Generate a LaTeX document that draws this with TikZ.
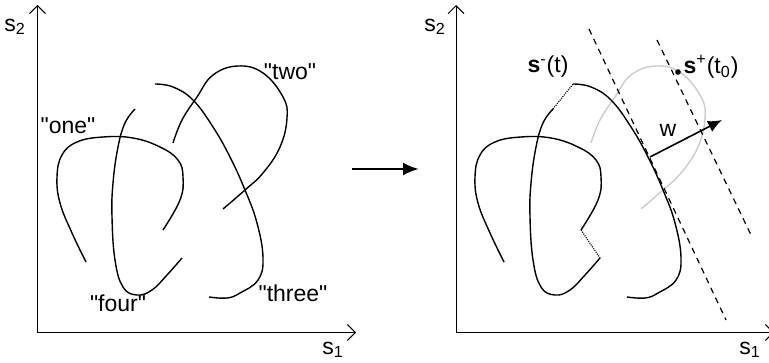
\documentclass[tikz,border=0pt]{standalone}
\usepackage{fontspec}
\setmainfont{Liberation Sans}[Ligatures=TeXOff]
\usetikzlibrary{arrows.meta}
\begin{document}
\begin{tikzpicture}[x=0.5pt,y=-0.5pt,
  lbl/.style={font=\fontsize{11.5}{13}\selectfont, inner sep=0pt},
  axis/.style={line width=0.45pt, -{Straight Barb[length=4pt,width=8pt,line width=0.45pt]}},
  crv/.style={line width=0.7pt},
  gcrv/.style={line width=0.7pt, black!20},
  dotl/.style={line width=0.6pt, dash pattern=on 0.5pt off 0.6pt},
  dsh/.style={line width=0.6pt, dash pattern=on 3pt off 2.5pt},
  bigarrow/.style={line width=1.3pt, -{Latex[length=8pt,width=6.5pt]}}]
\useasboundingbox (0,0) rectangle (769,363);
% ---------- left panel ----------
\coordinate (oL) at (37.5,332.5);
\coordinate (yL) at (37.5,5);
\coordinate (xL) at (356,332.5);
\draw[axis] (oL) -- (yL);
\draw[axis] (oL) -- (xL);
\node[lbl] (s2L) at (15,27) {s\textsubscript{2}};
\node[lbl] (s1L) at (333,350) {s\textsubscript{1}};
\draw[crv] plot[smooth,tension=0.7] coordinates {(86,262) (72,233) (60,203) (57,177) (62,155) (77,142) (103,137) (133,138) (160,147) (178,160) (183,177) (180,200) (163,230)};
\draw[crv] plot[smooth,tension=0.7] coordinates {(135,109) (125,123) (118,147) (113,183) (112,217) (115,260) (123,287) (137,295) (152,290) (167,275) (182,258)};
\draw[crv] plot[smooth,tension=0.7] coordinates {(155,84) (173,87) (193,100) (213,127) (230,157) (245,190) (257,223) (263,258) (258,280) (240,293) (227,298) (209,297)};
\draw[crv] plot[smooth,tension=0.7] coordinates {(173,143) (182,120) (197,97) (213,75) (238,66) (263,73) (283,97) (287,118) (280,147) (263,173) (245,190) (223,209)};
\node[lbl] (one) at (68,126) {"one"};
\node[lbl] (two) at (290,72) {"two"};
\node[lbl] (three) at (293,293) {"three"};
\node[lbl] (four) at (118,303) {"four"};
% ---------- middle arrow ----------
\coordinate (mA) at (352,169);
\coordinate (mB) at (419,169);
\draw[bigarrow] (mA) -- (mB);
% ---------- right panel ----------
\begin{scope}[shift={(418,0)}]
\coordinate (oR) at (38,332.5);
\coordinate (yR) at (38,5);
\coordinate (xR) at (356,332.5);
\draw[axis] (oR) -- (yR);
\draw[axis] (oR) -- (xR);
\node[lbl] (s2R) at (17,27) {s\textsubscript{2}};
\node[lbl] (s1R) at (332,350) {s\textsubscript{1}};
\draw[gcrv] plot[smooth,tension=0.7] coordinates {(173,143) (182,120) (197,97) (213,75) (238,66) (263,73) (283,97) (287,118) (280,147) (263,173) (245,190) (223,209)};
\draw[crv] plot[smooth,tension=0.7] coordinates {(86,262) (72,233) (60,203) (57,177) (62,155) (77,142) (103,137) (133,138) (160,147) (178,160) (183,177) (180,200) (163,230)};
\draw[crv] plot[smooth,tension=0.7] coordinates {(135,109) (125,123) (118,147) (113,183) (112,217) (115,260) (123,287) (137,295) (152,290) (167,275) (182,258)};
\draw[crv] plot[smooth,tension=0.7] coordinates {(155,84) (173,87) (193,100) (213,127) (230,157) (245,190) (257,223) (263,258) (258,280) (240,293) (227,298) (209,297)};
\coordinate (fourTop) at (135,109);
\coordinate (threeStart) at (155,84);
\coordinate (oneEnd) at (163,230);
\coordinate (fourEnd) at (182,258);
\draw[dotl] (fourTop) -- (threeStart);
\draw[dotl] (oneEnd) -- (fourEnd);
\end{scope}
\coordinate (d1a) at (589,29);
\coordinate (d1b) at (726,320);
\coordinate (d2a) at (657,40);
\coordinate (d2b) at (752,237);
\draw[dsh] (d1a) -- (d1b);
\draw[dsh] (d2a) -- (d2b);
\coordinate (wA) at (650,157);
\coordinate (wB) at (722,120);
\draw[line width=0.8pt, -{Latex[length=7pt,width=6pt]}] (wA) -- (wB);
\node[lbl] (w) at (668,130) {w};
\fill (678,72) circle (1.4pt) coordinate (sp);
\node[lbl] (splus) at (711,67) {\textbf{s}\textsuperscript{+}(t\textsubscript{0})};
\node[lbl] (sminus) at (548,67) {\textbf{s}\textsuperscript{-}(t)};
\end{tikzpicture}
\end{document}
